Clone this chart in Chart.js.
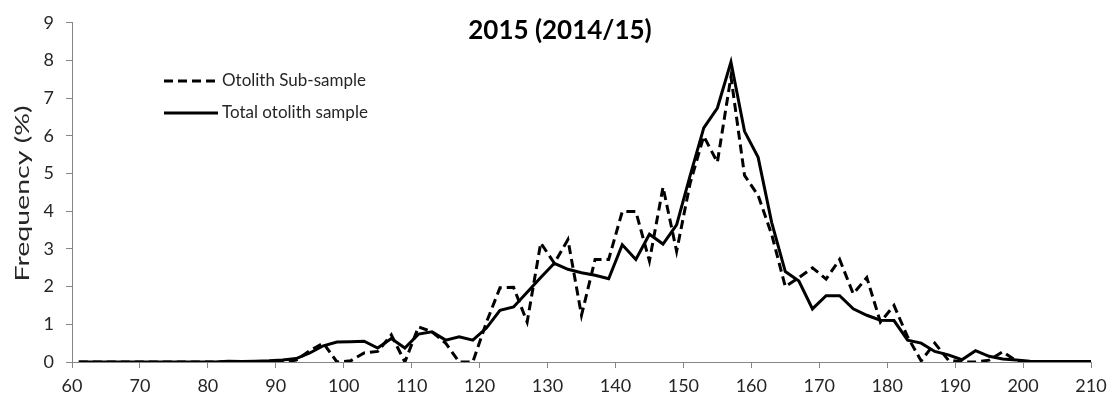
<!DOCTYPE html>
<html>
<head>
<meta charset="utf-8">
<script src="https://cdn.jsdelivr.net/npm/chart.js@4.4.1/dist/chart.umd.min.js"></script>
<style>
  html, body { margin: 0; padding: 0; background: #ffffff; }
  #wrap { width: 1120px; height: 406px; }
</style>
</head>
<body>
<div id="wrap"><canvas id="c" width="1120" height="406"></canvas></div>
<script>
// Length classes (cm), midpoints of 2 cm bins
const lengthClasses = [
  61, 63, 65, 67, 69, 71, 73, 75, 77, 79,
  81, 83, 85, 87, 89, 91, 93, 95, 97, 99,
  101, 103, 105, 107, 109, 111, 113, 115, 117, 119,
  121, 123, 125, 127, 129, 131, 133, 135, 137, 139,
  141, 143, 145, 147, 149, 151, 153, 155, 157, 159,
  161, 163, 165, 167, 169, 171, 173, 175, 177, 179,
  181, 183, 185, 187, 189, 191, 193, 195, 197, 199,
  201, 203, 205, 207, 209, 211
];

// Frequency (%) of the otolith sub-sample
const subSample = [
  0, 0, 0, 0, 0, 0, 0, 0, 0, 0,
  0, 0, 0, 0, 0, 0, 0.05, 0.3, 0.5, 0,
  0.03, 0.24, 0.28, 0.72, 0, 0.93, 0.8, 0.5, 0, 0,
  1.05, 1.97, 1.98, 1.06, 3.16, 2.62, 3.25, 1.24, 2.72, 2.72,
  3.99, 3.99, 2.68, 4.64, 2.94, 4.75, 5.99, 5.3, 7.57, 4.95,
  4.42, 3.38, 2.0, 2.24, 2.5, 2.2, 2.72, 1.81, 2.24, 1.06,
  1.5, 0.67, 0.03, 0.5, 0.05, 0, 0, 0.05, 0.27, 0.03,
  0, 0, 0, 0, 0, 0
];

// Frequency (%) of the total otolith sample
const totalSample = [
  0, 0, 0, 0, 0, 0, 0, 0, 0, 0,
  0, 0.02, 0.01, 0.02, 0.03, 0.05, 0.09, 0.24, 0.43, 0.53,
  0.54, 0.55, 0.37, 0.62, 0.37, 0.74, 0.8, 0.58, 0.67, 0.58,
  0.9, 1.37, 1.46, 1.85, 2.24, 2.62, 2.46, 2.37, 2.3, 2.21,
  3.11, 2.72, 3.39, 3.13, 3.64, 4.95, 6.21, 6.74, 7.96, 6.12,
  5.43, 3.7, 2.4, 2.15, 1.41, 1.76, 1.76, 1.41, 1.24, 1.11,
  1.1, 0.58, 0.5, 0.28, 0.19, 0.06, 0.3, 0.15, 0.08, 0.05,
  0.02, 0.01, 0.01, 0.01, 0.01, 0.02
];

const seriesNames = ['Otolith Sub-sample', 'Total otolith sample'];
const chartTitle = '2015 (2014/15)';
const yAxisTitle = 'Frequency (%)';
const xRange = [60, 210];
const yRange = [0, 9];

const FONT = 'Lato, "Open Sans", sans-serif';
const AXIS_GREY = '#868686';
const TEXT = '#262626';

const toPoints = (vals) => lengthClasses.map((x, i) => ({ x: x, y: vals[i] }));

// Title, stretched vertical axis title and in-plot legend
const annotations = {
  id: 'annotations',
  afterDraw(chart) {
    const ctx = chart.ctx;
    const area = chart.chartArea;
    ctx.save();
    ctx.fillStyle = '#000';
    ctx.font = 'bold 26px ' + FONT;
    ctx.textAlign = 'center';
    ctx.textBaseline = 'middle';
    ctx.fillText(chartTitle, 560, 31);

    // axis title, elongated along its reading direction
    ctx.save();
    ctx.translate(23, (area.top + area.bottom) / 2 + 1);
    ctx.rotate(-Math.PI / 2);
    ctx.scale(1.5, 1);
    ctx.fillStyle = TEXT;
    ctx.font = '19px ' + FONT;
    ctx.textAlign = 'center';
    ctx.textBaseline = 'middle';
    ctx.fillText(yAxisTitle, 0, 0);
    ctx.restore();

    const rows = [81, 113];
    chart.data.datasets.forEach((ds, i) => {
      const y = rows[i];
      ctx.beginPath();
      ctx.strokeStyle = ds.borderColor;
      ctx.lineWidth = ds.borderWidth;
      ctx.setLineDash(ds.borderDash || []);
      ctx.moveTo(164, y);
      ctx.lineTo(218, y);
      ctx.stroke();
      ctx.setLineDash([]);
      ctx.fillStyle = TEXT;
      ctx.font = '17px ' + FONT;
      ctx.textAlign = 'left';
      ctx.textBaseline = 'middle';
      ctx.fillText(ds.label, 222, y);
    });
    ctx.restore();
  }
};

new Chart(document.getElementById('c'), {
  type: 'line',
  data: {
    datasets: [
      {
        label: seriesNames[0],
        data: toPoints(subSample),
        borderColor: '#000',
        borderWidth: 3,
        borderDash: [9, 5],
        pointRadius: 0,
        tension: 0,
        fill: false
      },
      {
        label: seriesNames[1],
        data: toPoints(totalSample),
        borderColor: '#000',
        borderWidth: 3,
        pointRadius: 0,
        tension: 0,
        fill: false
      }
    ]
  },
  options: {
    responsive: false,
    animation: false,
    devicePixelRatio: 1,
    layout: { padding: { left: 0, right: 29, top: 18, bottom: 0 } },
    plugins: {
      legend: { display: false },
      title: { display: false },
      tooltip: { enabled: false }
    },
    scales: {
      x: {
        type: 'linear',
        min: xRange[0],
        max: xRange[1],
        ticks: {
          stepSize: 10,
          color: TEXT,
          font: { family: FONT, size: 18 },
          padding: 7,
          maxRotation: 0
        },
        grid: { display: true, drawOnChartArea: false, drawTicks: true, tickLength: 6, color: AXIS_GREY },
        border: { display: true, color: AXIS_GREY, width: 1 },
        afterFit(scale) { scale.height = 44; }
      },
      y: {
        min: yRange[0],
        max: yRange[1],
        ticks: {
          stepSize: 1,
          color: TEXT,
          font: { family: FONT, size: 18 },
          padding: 12
        },
        grid: { display: true, drawOnChartArea: false, drawTicks: true, tickLength: 6, color: AXIS_GREY },
        border: { display: true, color: AXIS_GREY, width: 1 },
        afterFit(scale) { scale.width = 72; }
      }
    }
  },
  plugins: [annotations]
});
</script>
</body>
</html>
